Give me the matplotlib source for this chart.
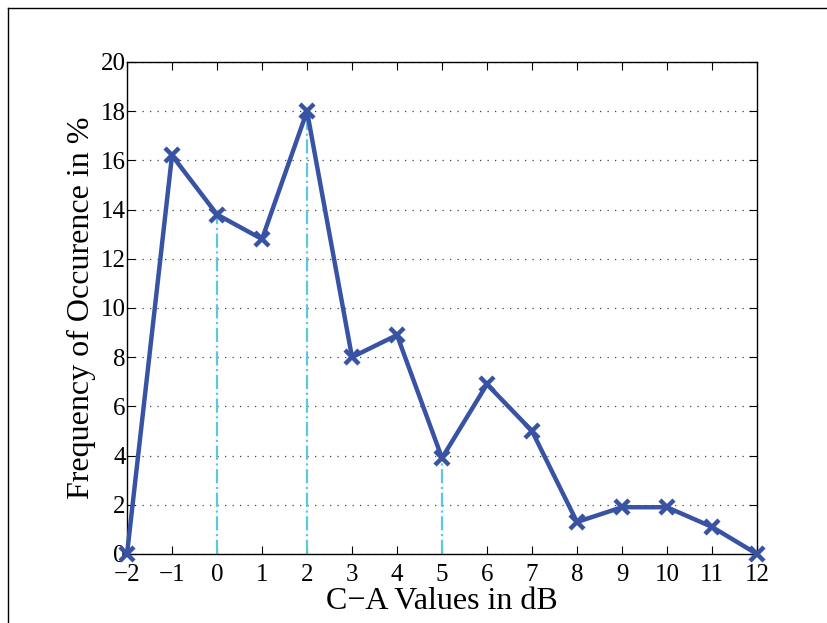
import matplotlib.pyplot as plt
import matplotlib.lines as mlines
import numpy as np

plt.rcParams['font.family'] = ['Liberation Serif', 'DejaVu Serif']

# data
ca_values = [-2, -1, 0, 1, 2, 3, 4, 5, 6, 7, 8, 9, 10, 11, 12]
freq = [0, 16.2, 13.8, 12.8, 18.0, 8.0, 8.9, 3.9, 6.9, 5.0, 1.3, 1.9, 1.9, 1.1, 0]
marked_x = [0, 2, 5]
marked_y = [13.8, 18.0, 3.9]

fig = plt.figure(figsize=(8.27, 6.23), dpi=100)
ax = fig.add_axes([0.1536, 0.1108, 0.7617, 0.7897])

# dash-dot drop lines
for mx, my in zip(marked_x, marked_y):
    ax.plot([mx, mx], [0, my], linestyle='-.', color='#5bc8dc', linewidth=1.6, zorder=2)

ax.plot(ca_values, freq, color='#3953a4', linewidth=3.2, marker='x',
        markersize=10, markeredgewidth=3.2, zorder=3, clip_on=False)

ax.set_xlim(-2, 12)
ax.set_ylim(0, 20)
ax.set_xticks(np.arange(-2, 13, 1))
ax.set_yticks(np.arange(0, 21, 2))
ax.yaxis.grid(True, linestyle=(0, (1, 5)), color='#444444', linewidth=0.9)
ax.tick_params(direction='in', top=True, right=True, length=6, width=0.8,
               labelsize=18)
ax.tick_params(axis='x', pad=7)
ax.tick_params(axis='y', pad=1)
for s in ax.spines.values():
    s.set_linewidth(1.0)

ax.set_xlabel('C\u2212A Values in dB', fontsize=23, labelpad=1)
ax.set_ylabel('Frequency of Occurence in %', fontsize=23, labelpad=3)

# outer frame (top and left edges visible)
fig.add_artist(mlines.Line2D([0.0097, 0.0097], [0, 0.987], color='black', linewidth=1.0))
fig.add_artist(mlines.Line2D([0.0097, 1.0], [0.987, 0.987], color='black', linewidth=1.0))

fig.savefig('out.png', dpi=100)
